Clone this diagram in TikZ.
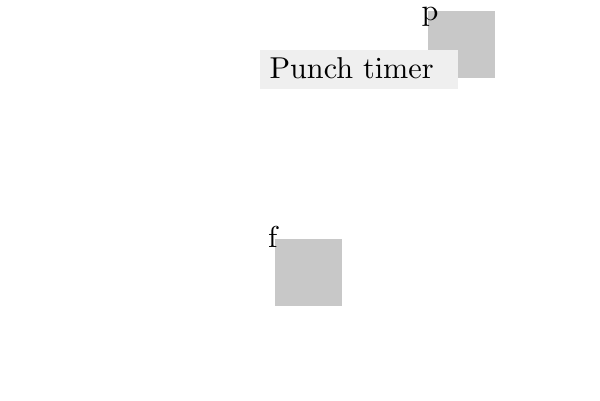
\documentclass[tikz,border=0pt]{standalone}
\definecolor{sqgray}{HTML}{C8C8C8}
\definecolor{boxgray}{HTML}{EFEFEF}
\font\bigrm=cmr10 at 30.2pt
\begin{document}
\begin{tikzpicture}[x=1pt,y=-1pt,
  sq/.style={fill=sqgray,draw=none,minimum width=67pt,minimum height=67pt,inner sep=0pt,anchor=north west},
  lbl/.style={inner sep=0pt,anchor=base west,font=\bigrm},
  tbox/.style={fill=boxgray,draw=none,minimum width=198pt,minimum height=39pt,inner sep=0pt,anchor=north west}]
\useasboundingbox (0,0) rectangle (600,400);
\node[sq] (p) at (428,11) {};
\node[lbl] (plabel) at (421.5,20.5) {p};
\node[sq] (f) at (275,239) {};
\node[lbl] (flabel) at (268,247.6) {f};
\node[tbox] (tb) at (260,50) {};
\node[lbl] (tbtext) at (269.5,78) {Punch timer};
\end{tikzpicture}
\end{document}
